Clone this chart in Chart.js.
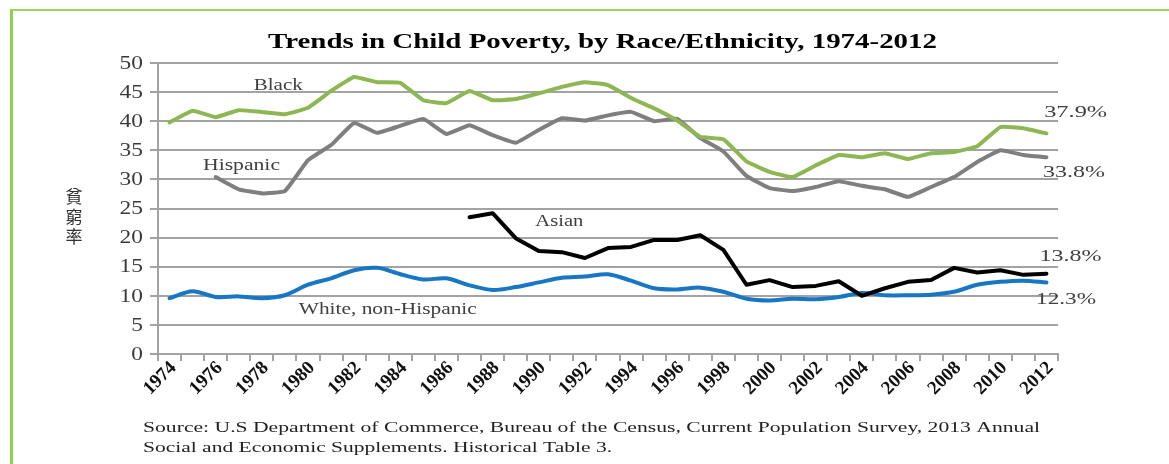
<!DOCTYPE html>
<html lang="en">
<head>
  <meta charset="UTF-8" />
  <script src="https://cdn.jsdelivr.net/npm/chart.js"></script>
  <title>Trends in Child Poverty</title>
  <style>
    body { margin: 0; background: #fff; }
    #wrap { position: relative; width: 1169px; height: 464px; }
    #frame { position: absolute; left: 10px; top: 9px; right: 0; bottom: 0;
             border-left: 3px solid #8fd14f; border-top: 2px solid #9ad65c; }
    #chartBox { position: absolute; left: 0; top: 0; width: 1169px; height: 464px; }
  </style>
</head>
<body>
  <div id="wrap">
    <div id="frame"></div>
    <div id="chartBox"><canvas id="povertyChart"></canvas></div>
  </div>

  <script>
    // years 1974 - 2012
    const years = [];
    for (let y = 1974; y <= 2012; y++) years.push(String(y));

    const black = [39.8, 41.8, 40.7, 41.9, 41.6, 41.2, 42.3, 45.2, 47.6, 46.7,
      46.6, 43.6, 43.1, 45.2, 43.6, 43.8, 44.8, 45.9, 46.7, 46.2,
      44.0, 42.2, 40.1, 37.3, 36.9, 33.1, 31.3, 30.4, 32.4, 34.2,
      33.8, 34.5, 33.5, 34.5, 34.7, 35.7, 39.0, 38.8, 37.9];

    const hispanic = [null, null, 30.4, 28.3, 27.6, 28.0, 33.3, 35.9, 39.7, 38.0,
      39.2, 40.4, 37.8, 39.3, 37.6, 36.3, 38.5, 40.5, 40.1, 41.0,
      41.6, 40.0, 40.4, 37.1, 34.8, 30.6, 28.5, 28.0, 28.7, 29.7,
      28.9, 28.3, 27.0, 28.7, 30.4, 33.0, 35.0, 34.2, 33.8];

    const asian = [null, null, null, null, null, null, null, null, null, null,
      null, null, null, 23.5, 24.2, 19.9, 17.7, 17.5, 16.5, 18.2,
      18.4, 19.6, 19.6, 20.4, 17.9, 11.9, 12.7, 11.5, 11.7, 12.5,
      10.0, 11.3, 12.4, 12.7, 14.8, 14.0, 14.4, 13.6, 13.8];

    const white = [9.6, 10.8, 9.8, 9.9, 9.6, 10.1, 11.9, 13.0, 14.4, 14.8,
      13.7, 12.8, 13.0, 11.8, 11.0, 11.5, 12.3, 13.1, 13.3, 13.7,
      12.6, 11.3, 11.1, 11.4, 10.7, 9.5, 9.2, 9.5, 9.4, 9.8,
      10.5, 10.1, 10.1, 10.2, 10.7, 11.9, 12.4, 12.6, 12.3];

    const yTicks = [0, 5, 10, 15, 20, 25, 30, 35, 40, 45, 50];

    const titleText = "Trends in Child Poverty, by Race/Ethnicity, 1974-2012";
    const yTitle = ["貧", "窮", "率"];
    const sourceLines = [
      "Source: U.S Department of Commerce, Bureau of the Census, Current Population Survey, 2013 Annual",
      "Social and Economic Supplements. Historical Table 3."
    ];

    // series labels: text, year index, value, width
    const seriesLabels = [
      { text: "Black", x: 3.65, v: 45.3, w: 49 },
      { text: "Hispanic", x: 1.45, v: 31.6, w: 77 },
      { text: "Asian", x: 15.85, v: 22.0, w: 48 },
      { text: "White, non-Hispanic", x: 5.6, v: 6.8, w: 178 },
      { text: "37.9%", x: 37.9, v: 40.8, w: 63 },
      { text: "33.8%", x: 37.85, v: 30.4, w: 62 },
      { text: "13.8%", x: 37.7, v: 16.0, w: 62 },
      { text: "12.3%", x: 37.55, v: 8.6, w: 60 }
    ];

    const serif = "'Liberation Serif', 'Times New Roman', serif";

    // draw text stretched horizontally to a given width (the source image is stretched)
    function fitText(ctx, text, x, y, width) {
      const w = ctx.measureText(text).width;
      ctx.save();
      ctx.translate(x, y);
      ctx.scale(width / w, 1);
      ctx.fillText(text, 0, 0);
      ctx.restore();
    }

    const textPlugin = {
      id: "texts",
      afterDraw(chart) {
        const ctx = chart.ctx;
        const xs = chart.scales.x, ys = chart.scales.y;
        ctx.save();
        ctx.textBaseline = "alphabetic";
        ctx.textAlign = "left";

        // title
        ctx.fillStyle = "#000";
        ctx.font = "bold 22px " + serif;
        fitText(ctx, titleText, 268, 48, 669);

        // y tick labels (stretched like the reference)
        ctx.fillStyle = "#3a3a3a";
        ctx.font = "18px " + serif;
        ctx.textBaseline = "middle";
        yTicks.forEach(v => {
          const t = String(v);
          const w = ctx.measureText(t).width * 1.3;
          fitText(ctx, t, 143 - w, ys.getPixelForValue(v) + 1, w);
        });

        // x tick labels, every other year, rotated 45 degrees
        ctx.fillStyle = "#111";
        ctx.font = "bold 19px " + serif;
        years.forEach((yr, i) => {
          if (i % 2) return;
          const px = xs.getPixelForValue(i);
          ctx.save();
          ctx.translate(px + 4, ys.bottom + 11);
          ctx.rotate(-Math.PI / 4);
          ctx.textAlign = "right";
          ctx.fillText(yr, 0, 0);
          ctx.restore();
        });
        ctx.textBaseline = "alphabetic";

        // y axis title, stacked
        ctx.fillStyle = "#333";
        ctx.font = "17px 'Noto Sans CJK TC', 'Noto Sans CJK SC', sans-serif";
        ctx.textAlign = "center";
        yTitle.forEach((c, i) => ctx.fillText(c, 74, 203 + i * 20));
        ctx.textAlign = "left";

        // series labels
        ctx.fillStyle = "#404040";
        ctx.font = "17px " + serif;
        seriesLabels.forEach(l => {
          const px = xs.getPixelForValue(l.x);
          const py = ys.getPixelForValue(l.v);
          fitText(ctx, l.text, px, py, l.w);
        });

        // source
        ctx.fillStyle = "#222";
        ctx.font = "15px " + serif;
        fitText(ctx, sourceLines[0], 143, 432, 897);
        fitText(ctx, sourceLines[1], 143, 452, 469);
        ctx.restore();
      }
    };

    const gridColor = "#a3a3a3";

    new Chart(document.getElementById("povertyChart"), {
      type: "line",
      data: {
        labels: years,
        datasets: [
          { label: "Black", data: black, borderColor: "#8db752", borderWidth: 4, tension: 0.1 },
          { label: "Hispanic", data: hispanic, borderColor: "#7f7f7f", borderWidth: 4, tension: 0.1 },
          { label: "Asian", data: asian, borderColor: "#000000", borderWidth: 4, tension: 0 },
          { label: "White, non-Hispanic", data: white, borderColor: "#1777c4", borderWidth: 4, tension: 0.3 }
        ]
      },
      options: {
        responsive: true,
        maintainAspectRatio: false,
        animation: false,
        elements: { point: { radius: 0 }, line: { borderCapStyle: "round", borderJoinStyle: "round" } },
        layout: { padding: { left: 58, top: 63, right: 111, bottom: 0 } },
        plugins: { legend: { display: false }, tooltip: { enabled: false } },
        scales: {
          x: {
            offset: true,
            afterFit: s => { s.height = 110; },
            grid: { display: true, drawOnChartArea: false, offset: true, tickLength: 7, color: gridColor, lineWidth: 2 },
            border: { display: true, color: gridColor, width: 2 },
            ticks: { display: false, autoSkip: false }
          },
          y: {
            min: 0, max: 50,
            afterFit: s => { s.width = 100; },
            afterBuildTicks: s => { s.ticks = yTicks.map(v => ({ value: v })); },
            grid: { color: gridColor, lineWidth: 2, tickLength: 8 },
            border: { display: true, color: gridColor, width: 2 },
            ticks: { display: false }
          }
        }
      },
      plugins: [textPlugin]
    });
  </script>
</body>
</html>
